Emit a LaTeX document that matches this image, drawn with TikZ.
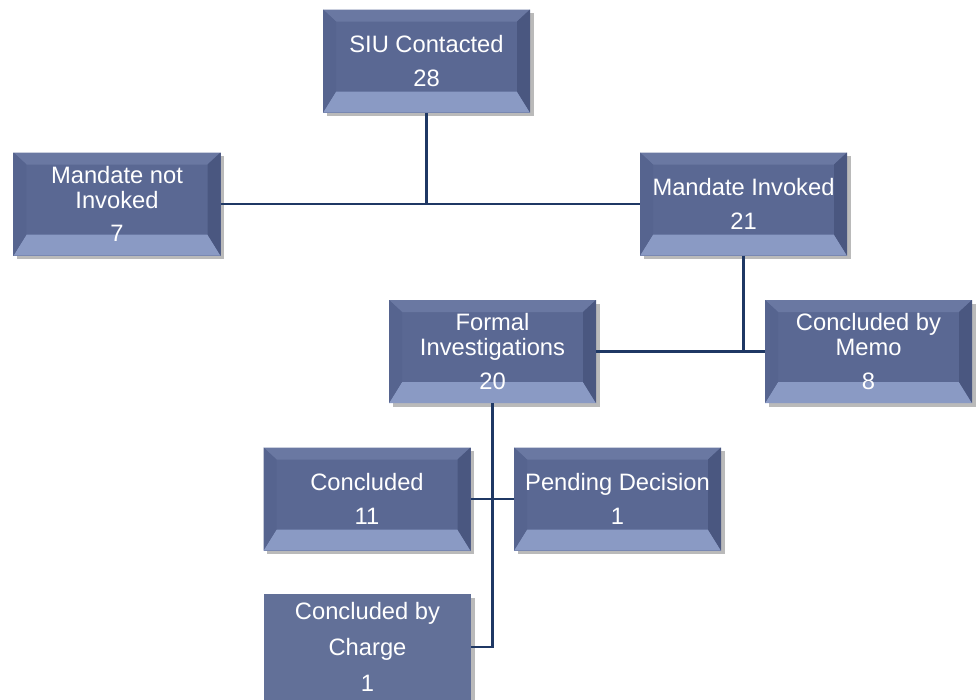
\documentclass[tikz,border=0pt]{standalone}
\usepackage{fontspec}
\setmainfont{Liberation Sans}
\usetikzlibrary{shadows}

\definecolor{boxface}{HTML}{5A6893}
\definecolor{boxtop}{HTML}{6A78A2}
\definecolor{boxbot}{HTML}{8A9AC4}
\definecolor{boxleft}{HTML}{56648F}
\definecolor{boxright}{HTML}{4A5780}
\definecolor{linkcol}{HTML}{1F3864}

\tikzset{
  tile/.style={rectangle, minimum width=4.14cm, minimum height=2.06cm,
    inner sep=0pt, align=center, text=white,
    font=\fontsize{13.5}{14.2}\selectfont, fill=boxface,
    drop shadow={shadow xshift=2pt, shadow yshift=-2pt, fill=black!60, opacity=.45}},
  bevel/.style={tile, path picture={
      \fill[boxtop] (path picture bounding box.north west) -- (path picture bounding box.north east)
        -- ([xshift=-0.26cm,yshift=-0.24cm]path picture bounding box.north east)
        -- ([xshift=0.26cm,yshift=-0.24cm]path picture bounding box.north west) -- cycle;
      \fill[boxbot] (path picture bounding box.south west) -- (path picture bounding box.south east)
        -- ([xshift=-0.26cm,yshift=0.42cm]path picture bounding box.south east)
        -- ([xshift=0.26cm,yshift=0.42cm]path picture bounding box.south west) -- cycle;
      \fill[boxleft] (path picture bounding box.north west) -- (path picture bounding box.south west)
        -- ([xshift=0.26cm,yshift=0.42cm]path picture bounding box.south west)
        -- ([xshift=0.26cm,yshift=-0.24cm]path picture bounding box.north west) -- cycle;
      \fill[boxright] (path picture bounding box.north east) -- (path picture bounding box.south east)
        -- ([xshift=-0.26cm,yshift=0.42cm]path picture bounding box.south east)
        -- ([xshift=-0.26cm,yshift=-0.24cm]path picture bounding box.north east) -- cycle;
    }},
  flat/.style={tile, fill=boxface!95!white, minimum height=2.12cm},
  link/.style={draw=linkcol, line width=1.6pt}
}

\begin{document}
\begin{tikzpicture}
  \useasboundingbox (0,0) rectangle (19.54,-14);
  % boxes
  \node[bevel] (siu) at (8.53,-1.22) {SIU Contacted\\[5pt]28};
  \node[bevel] (notinv) at (2.34,-4.08) {Mandate not\\Invoked\\[5pt]7};
  \node[bevel] (inv) at (14.87,-4.08) {Mandate Invoked\\[5pt]21};
  \node[bevel] (formal) at (9.85,-7.03) {Formal\\Investigations\\[5pt]20};
  \node[bevel] (memo) at (17.37,-7.03) {Concluded by\\Memo\\[5pt]8};
  \node[bevel] (concl) at (7.34,-9.98) {Concluded\\[5pt]11};
  \node[bevel] (pend) at (12.35,-9.98) {Pending Decision\\[5pt]1};
  \node[flat] (charge) at (7.35,-12.94) {Concluded by\\[6.3pt]Charge\\[6.3pt]1};
  % connectors
  \coordinate (j1) at (siu.south |- notinv.east);
  \coordinate (j2) at (inv.south |- memo.west);
  \coordinate (j3) at (formal.south |- charge.east);
  \draw[link] (siu.south) -- (j1);
  \draw[link] (notinv.east) -- (inv.west);
  \draw[link] (inv.south) -- (j2);
  \draw[link] (formal.east) -- (memo.west);
  \draw[link] (formal.south) -- (j3) -- (charge.east);
  \draw[link] (concl.east) -- (pend.west);
\end{tikzpicture}
\end{document}
